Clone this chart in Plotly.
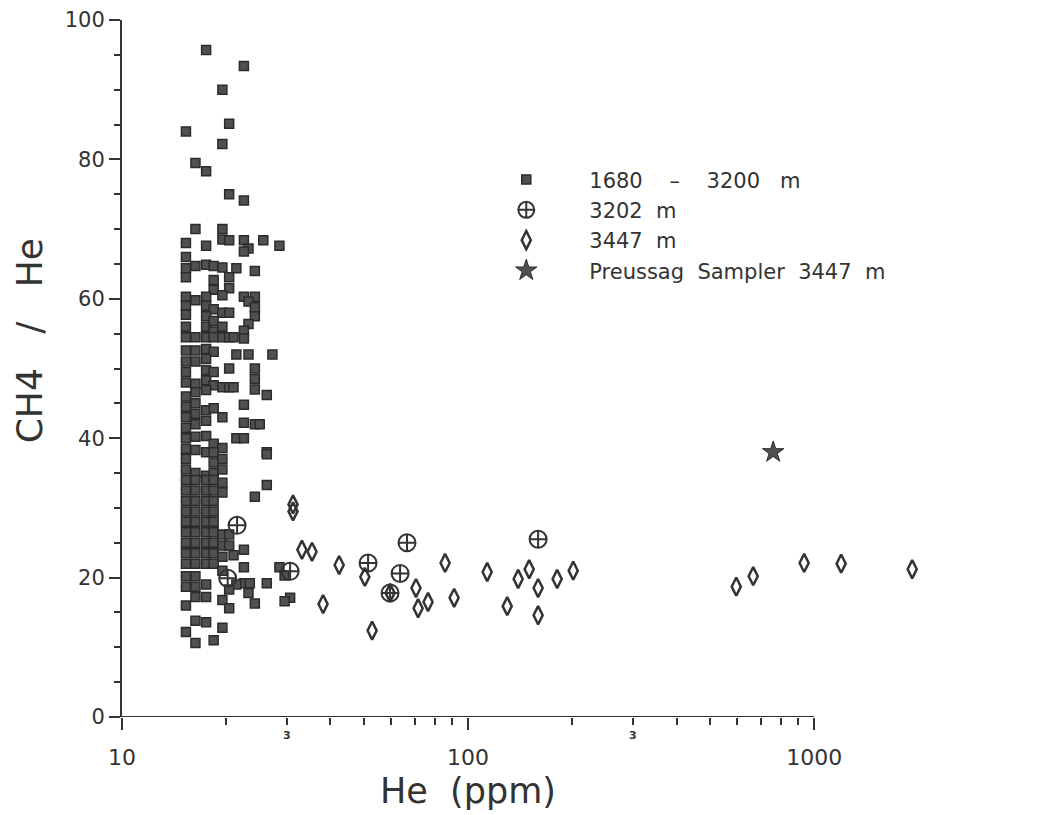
import math
import plotly.graph_objects as go

# ---------------- data ----------------
# 1680 - 3200 m (squares)
sq_he = [
    17.5, 22.5, 19.5, 20.4, 15.3, 19.5, 16.3, 17.5, 20.4, 22.5,
    16.3, 19.5, 19.5, 20.4, 15.3, 17.5, 22.5, 23.2, 22.5, 25.6, 28.5,
    15.3, 15.3, 15.3, 16.3, 17.5, 18.4, 19.5, 21.4, 24.2,
    18.4, 18.4, 20.4, 20.4, 19.5, 15.3, 17.5, 22.5, 24.2,
    15.3, 16.3, 17.5, 23.2, 24.2, 18.4, 19.5, 20.4,
    15.3, 15.3, 15.3, 17.5, 17.5, 18.4, 18.4, 19.5, 24.2, 23.2, 22.5, 22.5,
    16.3, 17.5, 18.4, 19.5, 20.4, 21.0,
    15.3, 16.3, 17.5, 18.4, 21.4, 23.2, 27.2, 20.4,
    15.3, 15.3, 15.3, 16.3, 16.3, 17.5, 17.5, 17.5, 18.4, 18.4,
    16.3, 17.5, 19.5, 20.4, 21.0, 24.2, 24.2, 24.2, 26.2, 22.5,
    15.3, 15.3, 15.3, 15.3, 16.3, 16.3, 16.3, 17.5, 17.5, 18.4, 19.5,
    22.5, 24.2, 25.0, 21.4, 22.5,
    15.3, 16.3, 17.5, 18.4, 19.5, 26.2,
    15.3, 15.3, 15.3, 16.3, 16.3, 17.5, 17.5, 18.4, 18.4, 18.4, 19.5, 19.5,
    26.2, 26.2, 24.2,
    15.3, 16.3, 17.5, 18.4, 15.3, 16.3, 17.5, 18.4, 15.3, 16.3, 17.5, 18.4,
    15.3, 16.3, 17.5, 18.4, 15.3, 16.3, 17.5, 18.4, 15.3, 16.3, 17.5, 18.4,
    15.3, 16.3, 17.5, 18.4, 15.3, 16.3, 17.5, 18.4, 15.3, 16.3, 17.5, 18.4,
    19.5, 19.5, 19.5, 20.4, 19.5, 20.4, 21.0, 19.5, 22.5, 22.5,
    15.3, 16.3, 15.3, 16.3, 17.5, 16.3, 17.5, 15.3,
    19.5, 20.4, 22.5, 23.2, 24.2, 26.2, 23.4,
    28.5, 29.5, 30.6, 29.5,
    16.3, 17.5, 15.3, 16.3, 19.5, 18.4,
    19.5, 21.4, 20.4,
]
sq_ratio = [
    95.7, 93.4, 90.0, 85.1, 84.0, 82.2, 79.5, 78.3, 75.0, 74.1,
    70.0, 70.0, 68.5, 68.4, 68.0, 67.6, 68.4, 67.2, 66.8, 68.4, 67.6,
    66.0, 64.4, 63.1, 64.7, 64.9, 64.7, 64.5, 64.4, 64.0,
    62.7, 61.3, 63.1, 61.5, 60.5, 60.3, 60.3, 60.3, 60.3,
    59.0, 59.8, 59.0, 59.6, 58.8, 58.5, 58.0, 58.0,
    57.7, 56.0, 54.5, 57.5, 56.0, 56.8, 55.3, 56.0, 57.5, 56.4, 55.4, 54.3,
    54.5, 54.5, 54.5, 54.5, 54.5, 54.5,
    52.6, 52.6, 52.8, 52.4, 52.0, 52.0, 52.0, 50.0,
    51.0, 49.5, 48.0, 51.0, 47.8, 51.4, 49.8, 48.3, 49.5, 47.6,
    46.6, 46.9, 47.3, 47.3, 47.3, 50.0, 48.5, 47.0, 46.2, 44.8,
    46.0, 44.5, 43.0, 41.5, 45.0, 43.5, 42.0, 44.0, 42.5, 44.3, 43.0,
    42.2, 42.0, 42.0, 40.0, 40.0,
    40.0, 40.2, 40.3, 39.2, 38.6, 38.0,
    38.5, 37.0, 35.5, 38.3, 35.0, 38.0, 34.6, 38.0, 36.5, 35.0, 37.0, 35.5,
    37.7, 33.3, 31.6,
    34.0, 34.0, 34.0, 34.0, 32.5, 32.5, 32.5, 32.5, 31.0, 31.0, 31.0, 31.0,
    29.5, 29.5, 29.5, 29.5, 28.0, 28.0, 28.0, 28.0, 26.5, 26.5, 26.5, 26.5,
    25.0, 25.0, 25.0, 25.0, 23.5, 23.5, 23.5, 23.5, 22.0, 22.0, 22.0, 22.0,
    33.6, 32.2, 26.2, 26.2, 24.6, 24.6, 23.2, 23.0, 24.0, 21.5,
    20.2, 20.2, 18.7, 18.7, 19.0, 17.2, 17.2, 16.0,
    16.8, 15.6, 19.2, 17.8, 16.3, 19.2, 19.2,
    21.5, 20.3, 17.1, 16.6,
    13.8, 13.6, 12.2, 10.6, 12.8, 11.0,
    21.0, 19.0, 18.3,
]

# 3202 m (circle with cross)
c_he = [21.5, 20.2, 30.6, 51.4, 66.6, 63.6, 59.5, 159.3]
c_ratio = [27.5, 19.9, 20.9, 22.1, 25.0, 20.6, 17.8, 25.5]

# 3447 m (open diamonds)
d_he = [31.2, 31.2, 33.1, 35.4, 38.1, 42.4, 50.3, 52.8, 59.5, 70.7, 71.7,
        76.6, 85.8, 91.1, 113.5, 129.7, 139.5, 150.1, 159.3, 159.3, 180.8,
        201.2, 595.2, 666.3, 935.0, 1196.0, 1919.0]
d_ratio = [30.5, 29.5, 24.0, 23.7, 16.2, 21.8, 20.1, 12.4, 17.8, 18.5, 15.6,
           16.5, 22.1, 17.1, 20.8, 15.9, 19.8, 21.2, 18.5, 14.6, 19.8,
           21.0, 18.7, 20.2, 22.1, 22.0, 21.2]

# Preussag Sampler 3447 m (star)
s_he = [761.0]
s_ratio = [38.0]

NB = "\u00a0"
series_names = [f"1680{NB*4}–{NB*4}3200{NB*3}m",
                f"3202{NB*2}m",
                f"3447{NB*2}m",
                f"Preussag{NB*2}Sampler{NB*2}3447{NB*2}m"]

x_title = f"He{NB*2}(ppm)"
y_title = f"CH4{NB*3}/{NB*3}He"

x_range_log = [1, 3.32]        # axis scale (log10 units)
x_axis_end = 1000              # the drawn x-axis line stops at this value
x_major = [10, 100, 1000]
x_major_text = ["10", "100", "1000"]
x_minor = [20, 30, 40, 50, 60, 70, 80, 90, 200, 300, 400, 500, 600, 700, 800, 900]
x_small_labels = [30, 300]
y_range = [0, 100]
y_major = [0, 20, 40, 60, 80, 100]

# ---------------- figure ----------------
INK = "#333333"
FILL = "#505050"
FONT = "DejaVu Sans"

fig = go.Figure()
fig.add_trace(go.Scatter(
    x=sq_he, y=sq_ratio, mode="markers", name=series_names[0],
    marker=dict(symbol="square", size=9, color=FILL, line=dict(color="#2b2b2b", width=1.5)),
))
fig.add_trace(go.Scatter(
    x=c_he, y=c_ratio, mode="markers", name=series_names[1],
    marker=dict(symbol="circle-cross-open", size=17, color=INK, line=dict(color=INK, width=2)),
))
fig.add_trace(go.Scatter(
    x=d_he, y=d_ratio, mode="markers", name=series_names[2],
    marker=dict(symbol="diamond-tall-open", size=13, color=INK, line=dict(color=INK, width=2.5)),
))
fig.add_trace(go.Scatter(
    x=s_he, y=s_ratio, mode="markers", name=series_names[3],
    marker=dict(symbol="star", size=16, color=FILL, line=dict(color="#2b2b2b", width=1)),
))

annotations = []
for v in x_small_labels:
    annotations.append(dict(
        x=math.log10(v), y=-0.026, xref="x", yref="paper", text="<b>3</b>",
        showarrow=False, font=dict(family=FONT, size=11, color=INK),
        xanchor="center", yanchor="middle",
    ))
# axis titles (placed like the original: x title centred under the drawn axis line)
annotations.append(dict(
    x=math.log10(100), y=-0.106, xref="x", yref="paper", text=x_title,
    showarrow=False, font=dict(family=FONT, size=35, color=INK),
    xanchor="center", yanchor="middle",
))
annotations.append(dict(
    x=-0.115, y=0.54, xref="paper", yref="paper", text=y_title, textangle=-90,
    showarrow=False, font=dict(family=FONT, size=36, color=INK),
    xanchor="center", yanchor="middle",
))

axis_end_frac = (math.log10(x_axis_end) - x_range_log[0]) / (x_range_log[1] - x_range_log[0])

fig.update_layout(
    width=1043, height=807,
    margin=dict(l=114, r=126, t=12, b=98),
    paper_bgcolor="white", plot_bgcolor="white",
    font=dict(family=FONT, color=INK),
    showlegend=True,
    legend=dict(
        x=0.425, y=0.80, xanchor="left", yanchor="top",
        font=dict(family=FONT, size=21, color=INK),
        bgcolor="rgba(0,0,0,0)", tracegroupgap=0, itemwidth=116,
        traceorder="normal",
    ),
    annotations=annotations,
    shapes=[dict(type="line", xref="paper", yref="y", x0=0, x1=axis_end_frac,
                 y0=y_range[0], y1=y_range[0], line=dict(color=INK, width=2))],
    xaxis=dict(
        type="log", range=x_range_log, showgrid=False, zeroline=False,
        showline=False, automargin=False,
        tickmode="array", tickvals=x_major, ticktext=x_major_text,
        ticks="outside", ticklen=12, tickwidth=2, tickcolor=INK,
        ticklabelstandoff=9,
        tickfont=dict(family=FONT, size=22, color=INK),
        minor=dict(tickmode="array", tickvals=x_minor, ticks="outside",
                   ticklen=7, tickwidth=2, tickcolor=INK, showgrid=False),
    ),
    yaxis=dict(
        range=y_range, showgrid=False, zeroline=False,
        showline=True, linecolor=INK, linewidth=2, automargin=False,
        tickmode="array", tickvals=y_major,
        ticks="outside", ticklen=11, tickwidth=2, tickcolor=INK,
        tickfont=dict(family=FONT, size=21, color=INK),
        minor=dict(dtick=5, ticks="outside", ticklen=6, tickwidth=2, tickcolor=INK, showgrid=False),
    ),
)

fig.write_html("out.html")
